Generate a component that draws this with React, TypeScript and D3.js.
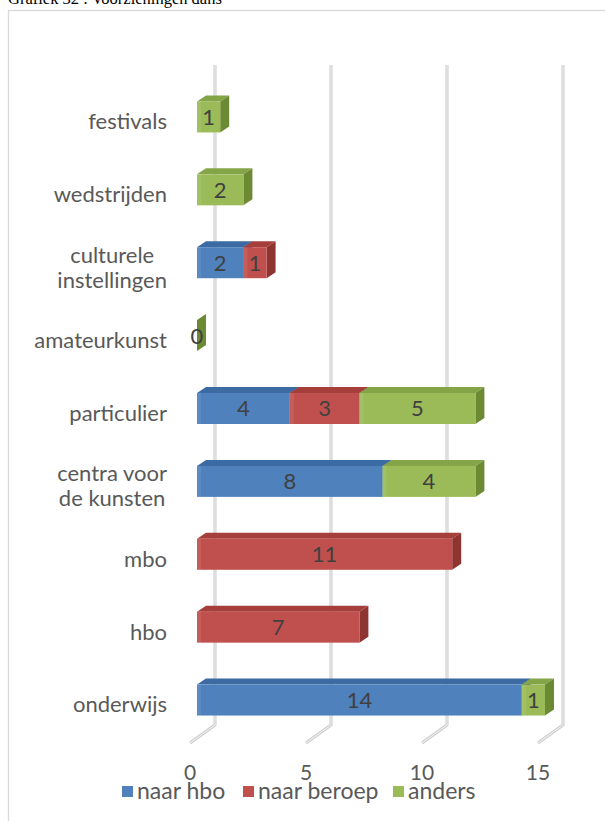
import React, { useEffect, useRef } from "react";
import * as d3 from "d3";

const W = 605;
const H = 821;

const categories = [
  "festivals",
  "wedstrijden",
  "culturele instellingen",
  "amateurkunst",
  "particulier",
  "centra voor de kunsten",
  "mbo",
  "hbo",
  "onderwijs",
];
const seriesNames = ["naar hbo", "naar beroep", "anders"];
const naarHbo: (number | null)[] = [null, null, 2, null, 4, 8, null, null, 14];
const naarBeroep: (number | null)[] = [null, null, 1, null, 3, null, 11, 7, null];
const anders: (number | null)[] = [1, 2, null, 0, 5, 4, null, null, 1];
const xTicks = [0, 5, 10, 15];
const title = "Grafiek 32 : Voorzieningen dans";

const frontColors = ["#4f81bd", "#c0504d", "#9bbb59"];
const topColors = ["#3c6aa2", "#a63f3c", "#84a448"];
const sideColors = ["#2f5a8e", "#8e3431", "#6c8a34"];

const FONT = "Lato, 'Open Sans', sans-serif";

export default function App() {
  const ref = useRef<SVGSVGElement | null>(null);

  useEffect(() => {
    const svg = d3.select(ref.current);
    svg.selectAll("*").remove();

    const series = [naarHbo, naarBeroep, anders];

    const x = d3.scaleLinear().domain([0, 15]).range([0, 348]);
    const y = d3
      .scaleBand<string>()
      .domain(categories)
      .range([80.5, 736.5])
      .paddingInner(0.575)
      .paddingOuter(0.2875);

    const backX0 = 215;
    const frontX0 = 190;
    const barX0 = 197;
    const wallTop = 65;
    const wallBottom = 725;
    const floorFront = 743;
    const ddx = 9;
    const ddy = -6;

    // title (clipped at top)
    svg
      .append("text")
      .attr("x", 8)
      .attr("y", 4)
      .attr("font-family", "'Liberation Serif', serif")
      .attr("font-size", 16.5)
      .attr("fill", "#000")
      .text(title);

    // frame
    svg
      .append("rect")
      .attr("x", 8.5)
      .attr("y", 10.5)
      .attr("width", 640)
      .attr("height", 900)
      .attr("fill", "#fff")
      .attr("stroke", "#d9d9d9")
      .attr("stroke-width", 1.3);

    // gridlines (back wall + floor)
    const grid = svg.append("g");
    xTicks.forEach((t) => {
      const bx = backX0 + x(t);
      const fx = frontX0 + x(t);
      const path = `M${bx},${wallTop} L${bx},${wallBottom} L${fx},${floorFront}`;
      grid
        .append("path")
        .attr("d", path)
        .attr("fill", "none")
        .attr("stroke", "#c9c9c9")
        .attr("stroke-width", 3)
        .attr("stroke-linejoin", "round");
      grid
        .append("path")
        .attr("d", path)
        .attr("fill", "none")
        .attr("stroke", "#eeeeee")
        .attr("stroke-width", 1.1)
        .attr("stroke-linejoin", "round");
    });

    // bars
    const bars = svg.append("g");
    const labels: { x: number; y: number; v: number }[] = [];
    categories.forEach((c, i) => {
      const top = y(c)!;
      const bh = y.bandwidth();
      let cum = 0;
      series.forEach((s, k) => {
        const v = s[i];
        if (v === null || v === undefined) return;
        const x0 = barX0 + x(cum);
        const x1 = barX0 + x(cum + v);
        const g = bars.append("g");
        g.append("polygon")
          .attr(
            "points",
            `${x0},${top} ${x0 + ddx},${top + ddy} ${x1 + ddx},${top + ddy} ${x1},${top}`
          )
          .attr("fill", topColors[k]);
        g.append("polygon")
          .attr(
            "points",
            `${x1},${top} ${x1 + ddx},${top + ddy} ${x1 + ddx},${top + bh + ddy} ${x1},${top + bh}`
          )
          .attr("fill", sideColors[k]);
        if (v > 0) {
          g.append("rect")
            .attr("x", x0)
            .attr("y", top)
            .attr("width", x1 - x0)
            .attr("height", bh)
            .attr("fill", frontColors[k]);
          g.append("rect")
            .attr("x", x0)
            .attr("y", top)
            .attr("width", Math.min(4, x1 - x0))
            .attr("height", bh)
            .attr("fill", "#fff")
            .attr("opacity", 0.08);
        }
        labels.push({ x: (x0 + x1) / 2, y: top + bh / 2, v });
        cum += v;
      });
    });

    // data labels
    svg
      .append("g")
      .selectAll("text")
      .data(labels)
      .join("text")
      .attr("x", (d) => d.x)
      .attr("y", (d) => d.y)
      .attr("dy", "0.36em")
      .attr("text-anchor", "middle")
      .attr("font-family", FONT)
      .attr("font-size", 22)
      .attr("fill", "#404040")
      .text((d) => String(d.v));

    // category labels with wrapping
    const catG = svg.append("g");
    const labelRight = 167;
    const maxW = 120;
    const lineH = 25;
    const fs = 22;
    categories.forEach((c) => {
      const words = c.split(" ");
      const lines: string[] = [];
      const probe = catG
        .append("text")
        .attr("font-family", FONT)
        .attr("font-size", fs);
      let cur = "";
      words.forEach((w) => {
        const test = cur ? cur + " " + w : w;
        probe.text(test);
        const tw = (probe.node() as SVGTextElement).getComputedTextLength();
        if (tw > maxW && cur) {
          lines.push(cur);
          cur = w;
        } else cur = test;
      });
      lines.push(cur);
      const widths = lines.map((l) => {
        probe.text(l);
        return (probe.node() as SVGTextElement).getComputedTextLength();
      });
      probe.remove();
      const blockW = Math.max(...widths);
      const cx = labelRight - blockW / 2;
      const cy = y(c)! + y.bandwidth() / 2 + 4.5;
      const multi = lines.length > 1;
      lines.forEach((l, li) => {
        catG
          .append("text")
          .attr("x", multi ? cx : labelRight)
          .attr("y", cy + (li - (lines.length - 1) / 2) * lineH)
          .attr("dy", "0.36em")
          .attr("text-anchor", multi ? "middle" : "end")
          .attr("font-family", FONT)
          .attr("font-size", fs)
          .attr("fill", "#595959")
          .text(l);
      });
    });

    // x tick labels
    svg
      .append("g")
      .selectAll("text")
      .data(xTicks)
      .join("text")
      .attr("x", (t) => frontX0 + x(t))
      .attr("y", 772.5)
      .attr("dy", "0.36em")
      .attr("text-anchor", "middle")
      .attr("font-family", FONT)
      .attr("font-size", 21)
      .attr("fill", "#595959")
      .text((t) => String(t));

    // legend
    const legendX = [122, 243, 393];
    const lg = svg.append("g");
    seriesNames.forEach((n, k) => {
      lg.append("rect")
        .attr("x", legendX[k])
        .attr("y", 786)
        .attr("width", 11)
        .attr("height", 11)
        .attr("fill", frontColors[k]);
      lg.append("text")
        .attr("x", legendX[k] + 15)
        .attr("y", 790.5)
        .attr("dy", "0.36em")
        .attr("font-family", FONT)
        .attr("font-size", 23)
        .attr("fill", "#595959")
        .text(n);
    });
  }, []);

  return (
    <svg
      ref={ref}
      width={W}
      height={H}
      style={{ position: "absolute", left: 0, top: 0, background: "#fff" }}
    />
  );
}
